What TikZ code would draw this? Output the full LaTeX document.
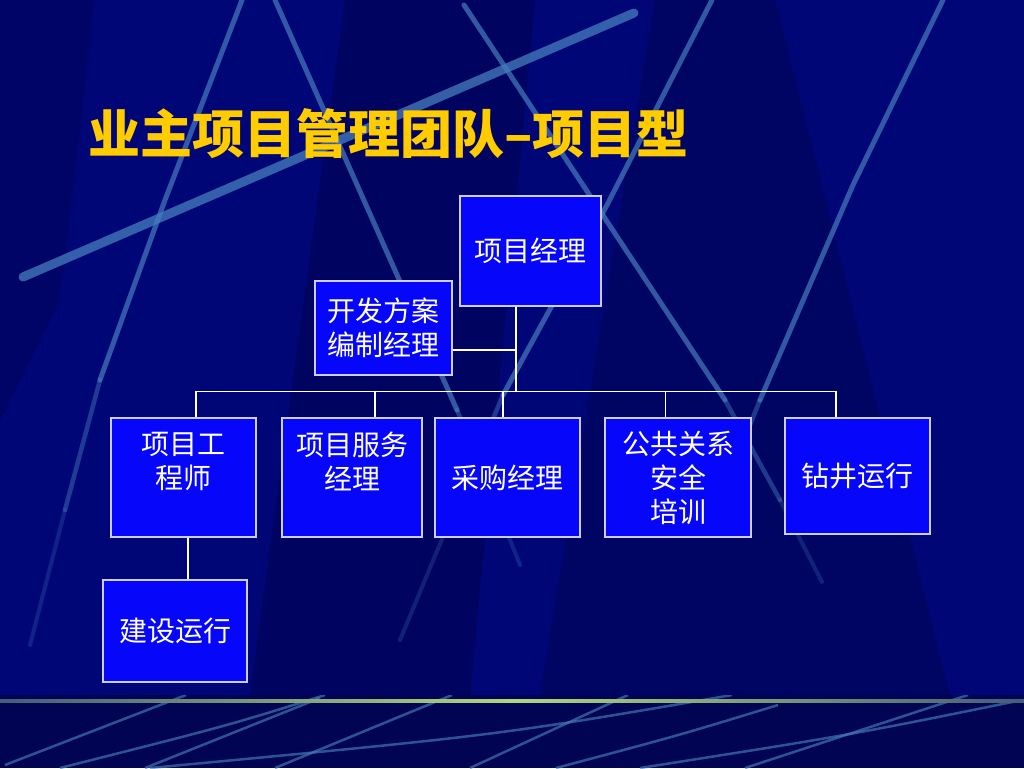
\documentclass[tikz,border=0pt]{standalone}
\usepackage{fontspec}
\newfontfamily\cjk{Noto Sans CJK SC}
\definecolor{bgnavy}{RGB}{0,6,118}
\definecolor{bgdark}{RGB}{0,0,55}
\definecolor{bandnavy}{RGB}{0,4,82}
\definecolor{streak}{RGB}{70,125,190}
\definecolor{boxblue}{RGB}{6,6,250}
\definecolor{boxline}{RGB}{205,205,255}
\definecolor{titleyellow}{RGB}{255,204,0}
\definecolor{lineend}{RGB}{70,92,120}
\definecolor{linemid}{RGB}{175,215,125}
\begin{document}
\begin{tikzpicture}[x=1pt,y=-1pt,
  streakline/.style={draw=streak, line width=5pt, opacity=.7, line cap=round},
  streakmid/.style={draw=streak, line width=4.5pt, opacity=.45, line cap=round},
  streaktail/.style={draw=streak, line width=4pt, opacity=.25, line cap=round},
  bandstreak/.style={draw=streak, line width=2.5pt, opacity=.65},
  orgbox/.style={draw=boxline, line width=1.2pt, fill=boxblue, text=white,
    font=\cjk\fontsize{28}{34}\selectfont, align=center, inner sep=0pt},
  link/.style={draw=white, line width=1.1pt},
  titletext/.style={font=\cjk\bfseries\fontsize{52}{60}\selectfont, inner sep=0pt, anchor=west}]
\useasboundingbox (0,0) rectangle (1024,768);
% background
\fill[bgnavy] (0,0) rectangle (1024,768);
\fill[bgdark, opacity=.25] (0,0) -- (95,0) -- (60,300) -- (0,420) -- cycle;
\fill[bgdark, opacity=.35] (345,0) -- (535,0) -- (470,695) -- (250,695) -- cycle;
\fill[bgdark, opacity=.3] (655,0) -- (775,0) -- (950,695) -- (540,695) -- cycle;
\begin{scope}
\clip (0,0) rectangle (1024,695);
\draw[streakline, line width=9pt, opacity=.75] (23,277) -- (634,13);
\draw[streakline] (242,0) -- (165,200) -- (100,380);
\draw[streakmid] (100,380) -- (65,510);
\draw[streaktail] (65,510) -- (30,645);
\draw[streakline] (275,0) -- (457,410);
\draw[streakmid] (457,410) -- (490,490);
\draw[streaktail] (490,490) -- (520,565);
\draw[streakline] (464,5) -- (725,400);
\draw[streakmid] (725,400) -- (780,500);
\draw[streaktail] (780,500) -- (822,582);
\draw[streakline] (712,0) -- (607,205) -- (503,395);
\draw[streakmid] (503,395) -- (450,520);
\draw[streaktail] (450,520) -- (400,640);
\draw[streakline] (943,0) -- (853,185) -- (760,400);
\draw[streakmid] (760,400) -- (740,450);
\draw[streaktail] (740,450) -- (722,495);
\end{scope}
% bottom band
\fill[bandnavy] (0,695) rectangle (1024,768);
\begin{scope}
\clip (0,695) rectangle (1024,768);
\draw[bandstreak] (186,695) -- (5,765);
\draw[bandstreak] (325,695) .. controls (230,725) .. (60,768);
\draw[bandstreak] (320,698) -- (145,768);
\draw[bandstreak] (452,695) -- (275,768);
\draw[bandstreak] (732,695) .. controls (500,735) .. (150,768);
\draw[bandstreak] (628,695) -- (470,768);
\draw[bandstreak] (778,705) .. controls (680,735) .. (556,768);
\draw[bandstreak] (968,695) -- (745,768);
\draw[bandstreak] (1022,700) .. controls (850,735) .. (640,768);
\end{scope}
\shade[left color=lineend, right color=lineend, middle color=linemid] (0,699.5) rectangle (1024,702.5);
% title
\node[titletext, text=titleyellow] (title) at (88,134) {业主项目管理团队–项目型};
% boxes
\node[orgbox, minimum width=141pt, minimum height=110pt] (pm) at (530.5,251) {\raisebox{-4pt}{项目经理}};
\node[orgbox, minimum width=137pt, minimum height=94pt] (kf) at (383.5,328) {开发方案\\编制经理};
\node[orgbox, minimum width=145pt, minimum height=119pt] (gc) at (183.5,477.5) {项目工\\程师\\~};
\node[orgbox, minimum width=140pt, minimum height=119pt] (fw) at (352,477.5) {项目服务\\经理\\~};
\node[orgbox, minimum width=145pt, minimum height=119pt] (cg) at (507.5,477.5) {采购经理};
\node[orgbox, minimum width=146pt, minimum height=119pt] (gg) at (678,477.5) {公共关系\\安全\\培训};
\node[orgbox, minimum width=145pt, minimum height=116pt] (zj) at (857.5,476) {钻井运行};
\node[orgbox, minimum width=144pt, minimum height=102pt] (js) at (175,631) {建设运行};
% connectors
\coordinate (bus) at (516,392);
\coordinate (kfj) at (516,350);
\draw[link] ([xshift=-14.5pt]pm.south) -- (bus);
\draw[link] ([yshift=-22pt]kf.east) -- (kfj);
\draw[link] ([xshift=12.5pt]gc.north) -- ++(0,-26) -| ([xshift=-21.5pt]zj.north);
\draw[link] ([xshift=23pt]fw.north) -- ++(0,-26);
\draw[link] ([xshift=-4.5pt]cg.north) -- ++(0,-26);
\draw[link] ([xshift=-12.5pt]gg.north) -- ++(0,-26);
\draw[link] ([xshift=4.5pt]gc.south) -- ([xshift=13pt]js.north);
\end{tikzpicture}
\end{document}
